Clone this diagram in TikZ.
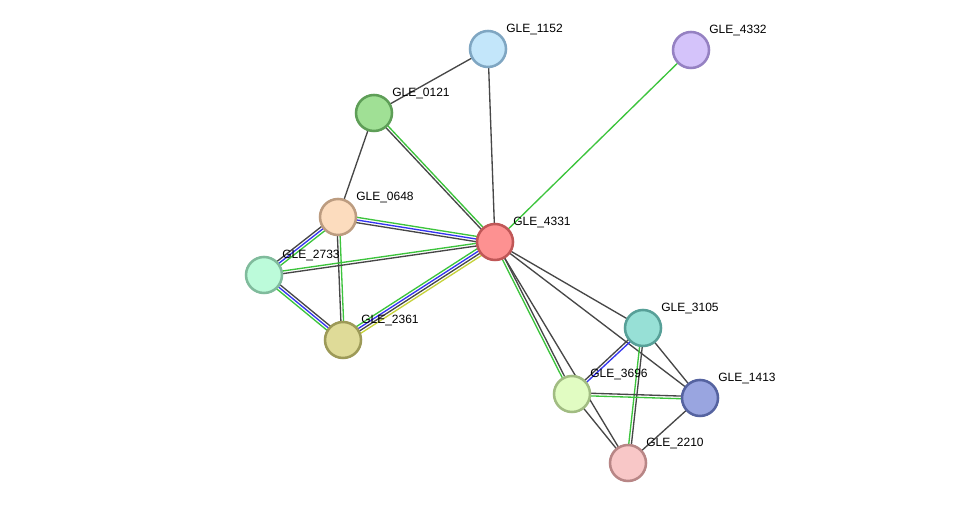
\documentclass[tikz,border=0pt]{standalone}
\usepackage{fontspec}
\setmainfont{Liberation Sans}
\usetikzlibrary{calc,backgrounds}

\definecolor{lnblack}{HTML}{474747}
\definecolor{lngreen}{HTML}{3CC43C}
\definecolor{lnblue}{HTML}{3434F0}
\definecolor{lnyellow}{HTML}{C6D23A}

\definecolor{f1152}{HTML}{C3E6FA}\definecolor{b1152}{HTML}{7FA6C2}
\definecolor{f4332}{HTML}{D4C3FA}\definecolor{b4332}{HTML}{9581C2}
\definecolor{f0121}{HTML}{A0E095}\definecolor{b0121}{HTML}{5E9E57}
\definecolor{f0648}{HTML}{FCDCBE}\definecolor{b0648}{HTML}{BC9C80}
\definecolor{f4331}{HTML}{FD9191}\definecolor{b4331}{HTML}{C05757}
\definecolor{f2733}{HTML}{BCFBDA}\definecolor{b2733}{HTML}{80BB9C}
\definecolor{f2361}{HTML}{DFDB98}\definecolor{b2361}{HTML}{9D9A58}
\definecolor{f3105}{HTML}{97E0D6}\definecolor{b3105}{HTML}{57A098}
\definecolor{f3696}{HTML}{E1FCC2}\definecolor{b3696}{HTML}{A1BC82}
\definecolor{f1413}{HTML}{99A5E0}\definecolor{b1413}{HTML}{5563A0}
\definecolor{f2210}{HTML}{F8C7C7}\definecolor{b2210}{HTML}{B88686}

% from, number of lines, to, colours
\newcommand{\link}[4]{%
  \foreach \col [count=\k, evaluate=\k as \off using (\k-1-(#2-1)/2)*2] in {#4}
    \draw[lnk,draw=\col] ($(#1)!\off pt!90:(#3)$) -- ($(#3)!\off pt!-90:(#1)$);}

\begin{document}
\begin{tikzpicture}[x=0.75pt,y=-0.75pt,
  prot/.style={circle,minimum size=27pt,inner sep=0pt,line width=1.9pt},
  lbl/.style={anchor=west,inner sep=0pt,font=\fontsize{9pt}{10pt}\selectfont},
  lnk/.style={line width=1pt}]
\useasboundingbox (0,0) rectangle (976,509);

% proteins
\node[prot,fill=f1152,draw=b1152] (n1152) at (488,49) {};
\node[prot,fill=f4332,draw=b4332] (n4332) at (691,50) {};
\node[prot,fill=f0121,draw=b0121] (n0121) at (374,113) {};
\node[prot,fill=f0648,draw=b0648] (n0648) at (338,217) {};
\node[prot,fill=f4331,draw=b4331] (n4331) at (495,242) {};
\node[prot,fill=f2733,draw=b2733] (n2733) at (264,275) {};
\node[prot,fill=f2361,draw=b2361] (n2361) at (343,340) {};
\node[prot,fill=f3105,draw=b3105] (n3105) at (643,328) {};
\node[prot,fill=f3696,draw=b3696] (n3696) at (572,394) {};
\node[prot,fill=f1413,draw=b1413] (n1413) at (700,398) {};
\node[prot,fill=f2210,draw=b2210] (n2210) at (628,463) {};

% labels
\foreach \p in {1152,4332,0121,0648,4331,2733,2361,3105,3696,1413,2210}
  \node[lbl] (l\p) at ($(n\p)+(18,-19)$) {GLE\_\p};

% links
\begin{pgfonlayer}{background}
\fill[white] (0,0) rectangle (976,509);
\link{n1152}{1}{n0121}{lnblack}
\link{n1152}{1}{n4331}{lnblack}
\link{n4332}{1}{n4331}{lngreen}
\link{n0121}{2}{n4331}{lnblack,lngreen}
\link{n0121}{1}{n0648}{lnblack}
\link{n0648}{3}{n4331}{lnblack,lnblue,lngreen}
\link{n0648}{3}{n2733}{lnblack,lnblue,lngreen}
\link{n0648}{2}{n2361}{lnblack,lngreen}
\link{n2733}{2}{n4331}{lnblack,lngreen}
\link{n2733}{3}{n2361}{lngreen,lnblue,lnblack}
\link{n2361}{4}{n4331}{lnyellow,lnblack,lnblue,lngreen}
\link{n4331}{2}{n3696}{lngreen,lnblack}
\link{n4331}{1}{n2210}{lnblack}
\link{n4331}{1}{n3105}{lnblack}
\link{n4331}{1}{n1413}{lnblack}
\link{n3105}{2}{n3696}{lnblack,lnblue}
\link{n3105}{1}{n1413}{lnblack}
\link{n3105}{2}{n2210}{lngreen,lnblack}
\link{n3696}{2}{n1413}{lngreen,lnblack}
\link{n3696}{1}{n2210}{lnblack}
\link{n1413}{1}{n2210}{lnblack}
\end{pgfonlayer}
\end{tikzpicture}
\end{document}
